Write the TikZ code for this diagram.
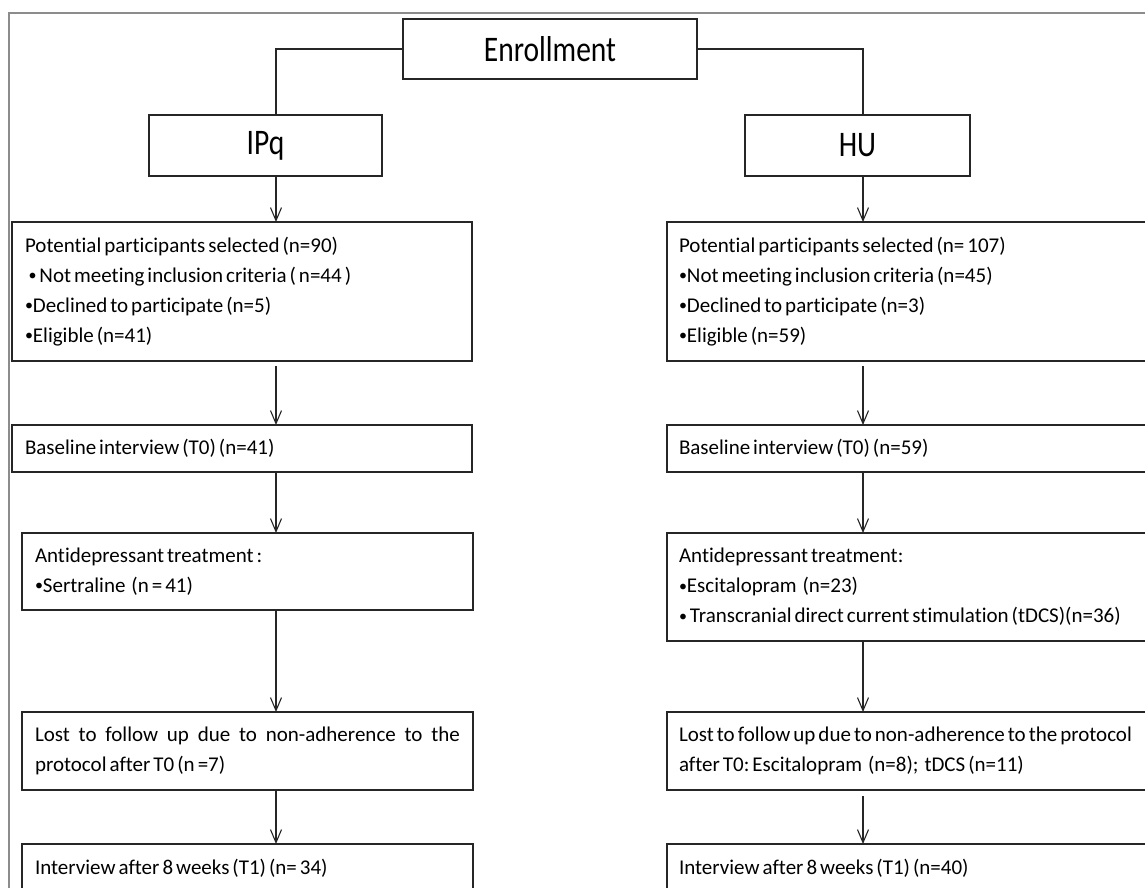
\documentclass[tikz,border=0pt]{standalone}
\usepackage{fontspec}
\setmainfont{Carlito}[Ligatures=NoCommon]
\newfontfamily\bigfont{Carlito}[FakeStretch=0.82,Ligatures=NoCommon]
\usetikzlibrary{arrows.meta,calc}
\newcommand{\bul}{{\fontsize{16}{16}\selectfont\raisebox{1.5pt}{\textbullet}}}
\newcommand{\bodyfont}{\fontsize{21}{30}\selectfont\hyphenpenalty=10000\exhyphenpenalty=10000}
\begin{document}
\begin{tikzpicture}[x=1pt,y=-1pt,
  box/.style={draw=black!85,line width=1.8pt,inner xsep=13pt,inner ysep=0pt,outer sep=0pt,
    anchor=north west,align=left,font=\bodyfont,
    execute at begin node={\spaceskip=3pt plus 1pt minus 0.5pt\xspaceskip=3pt plus 1pt}},
  bigbox/.style={draw=black!85,line width=1.8pt,anchor=north west,inner sep=0pt,outer sep=0pt,
    font=\bigfont\fontsize{36}{40}\selectfont},
  conn/.style={line width=1.2pt,draw=black!85},
  arr/.style={conn,-{Straight Barb[length=13pt,width=11pt,line width=1.1pt]}}]
\useasboundingbox (0,0) rectangle (1145,888);
% outer frame
\draw[line width=1.5pt,draw=black!45] (9,890) -- (9,13) -- (1146,13);
% column coordinates
\coordinate (colL) at (276,0);
\coordinate (colR) at (863,0);
% top
\node[bigbox,minimum width=294pt,minimum height=60pt] (enroll) at (403,19) {Enrollment};
\node[bigbox,minimum width=233pt,minimum height=61pt] (ipq) at (149,115) {IPq};
\node[bigbox,minimum width=225pt,minimum height=61pt] (hu) at (745,115) {HU};
% left column
\node[box,text width=434pt,minimum height=139pt] (potL) at (12,222)
 {Potential participants selected (n=90)\\
  \,\bul\ Not meeting inclusion criteria ( n=44 )\\
  \bul Declined to participate (n=5)\\
  \bul Eligible (n=41)};
\node[box,text width=434pt,minimum height=47pt] (baseL) at (12,425)
 {Baseline interview (T0) (n=41)};
\node[box,text width=425pt,minimum height=77pt] (antiL) at (22,533)
 {Antidepressant treatment :\\
  \bul Sertraline~ (n = 41)};
\node[box,text width=425pt,minimum height=78pt] (lostL) at (22,712)
 {\makebox[425pt][s]{Lost to follow up due to non-adherence to the}\\
  protocol after T0 (n =7)};
\node[box,text width=425pt,minimum height=48pt] (intL) at (22,844)
 {Interview after 8 weeks (T1) (n= 34)};
% right column
\node[box,inner xsep=12pt,text width=476pt,minimum height=139pt] (potR) at (667,222)
 {Potential participants selected (n= 107)\\
  \bul Not meeting inclusion criteria (n=45)\\
  \bul Declined to participate (n=3)\\
  \bul Eligible (n=59)};
\node[box,inner xsep=12pt,text width=476pt,minimum height=47pt] (baseR) at (667,425)
 {Baseline interview (T0) (n=59)};
\node[box,inner xsep=12pt,text width=476pt,minimum height=108pt] (antiR) at (667,533)
 {Antidepressant treatment:\\
  \bul Escitalopram~ (n=23)\\
  \bul\ Transcranial direct current stimulation (tDCS)(n=36)};
\node[box,inner xsep=12pt,text width=476pt,minimum height=78pt] (lostR) at (667,712)
 {\mbox{Lost to follow up due to non-adherence to the protocol}\\
  \mbox{after T0: Escitalopram~ (n=8);~ tDCS (n=11)}};
\node[box,inner xsep=12pt,text width=476pt,minimum height=48pt] (intR) at (667,844)
 {Interview after 8 weeks (T1) (n=40)};
% connectors
\draw[conn] (enroll.west) -| (colL |- ipq.north);
\draw[conn] (enroll.east) -| (colR |- hu.north);
\draw[arr] (colL |- ipq.south) -- (colL |- potL.north);
\draw[arr] (colR |- hu.south) -- (colR |- potR.north);
\draw[arr,shorten <=5pt] (colL |- potL.south) -- (colL |- baseL.north);
\draw[arr,shorten <=5pt] (colR |- potR.south) -- (colR |- baseR.north);
\draw[arr] (colL |- baseL.south) -- (colL |- antiL.north);
\draw[arr] (colR |- baseR.south) -- (colR |- antiR.north);
\draw[arr] (colL |- antiL.south) -- (colL |- lostL.north);
\draw[arr] (colR |- antiR.south) -- (colR |- lostR.north);
\draw[arr] (colL |- lostL.south) -- (colL |- intL.north);
\draw[arr,shorten <=6pt] (colR |- lostR.south) -- (colR |- intR.north);
\end{tikzpicture}
\end{document}
